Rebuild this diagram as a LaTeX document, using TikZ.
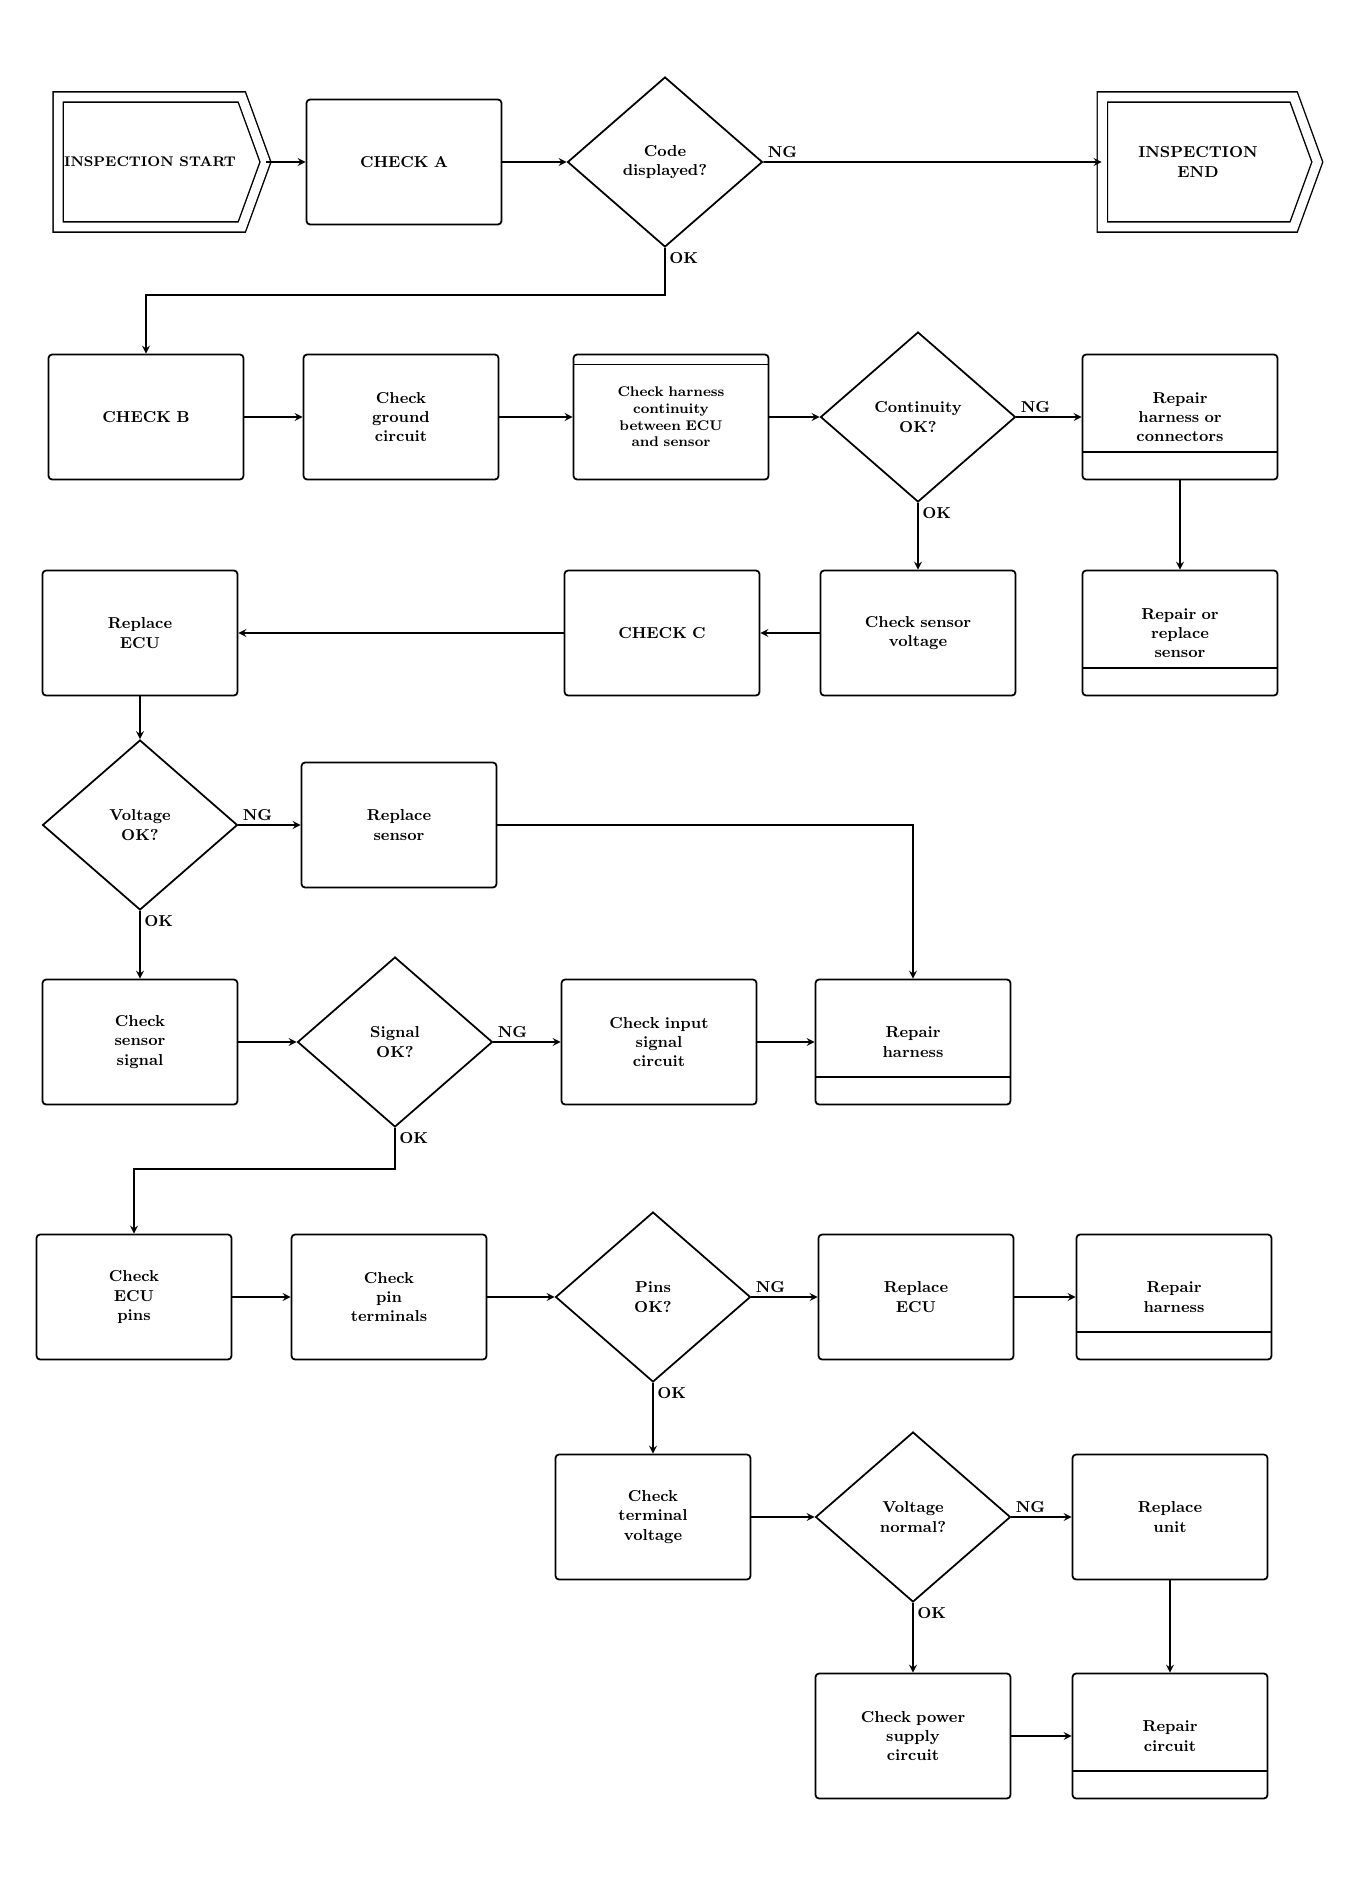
\documentclass[tikz,border=0pt]{standalone}
\usetikzlibrary{shapes.geometric,shapes.symbols}
\begin{document}
\begin{tikzpicture}[x=0.02cm,y=-0.02cm,>=stealth,
    box/.style={draw, line width=1pt, rounded corners=2pt, minimum width=3.9cm, minimum height=2.5cm, text width=3.3cm, align=center, font=\small\bfseries},
    fixbox/.style={box, path picture={\draw[line width=0.6pt] ([yshift=0.55cm]path picture bounding box.south west) -- ([yshift=0.55cm]path picture bounding box.south east);}},
    headbox/.style={box, path picture={\draw[line width=0.6pt] ([yshift=-0.2cm]path picture bounding box.north west) -- ([yshift=-0.2cm]path picture bounding box.north east);}},
    ask/.style={draw, diamond, line width=1pt, minimum width=3.9cm, minimum height=3.4cm, inner sep=0pt, align=center, font=\small\bfseries},
    term/.style={draw, double, double distance=5pt, line width=0.8pt, signal, signal to=east, signal pointer angle=140, minimum width=3.9cm, minimum height=2.6cm, align=center, font=\small\bfseries},
    lbl/.style={font=\small\bfseries, inner sep=2pt}]
    \useasboundingbox (0,0) rectangle (1354,1890);
    % row 1
    \node[term, font=\footnotesize\bfseries] (start) at (150,162) {INSPECTION START};
    \node[box] (chka) at (404,162) {CHECK A};
    \node[ask] (codeq) at (665,162) {Code\\displayed?};
    \node[term, minimum width=4.3cm] (finish) at (1198,162) {INSPECTION\\END};
    % row 2
    \node[box] (chkb) at (146,417) {CHECK B};
    \node[box] (gnd) at (401,417) {Check\\ground\\circuit};
    \node[headbox, font=\footnotesize\bfseries] (harn) at (671,417) {Check harness\\continuity\\between ECU\\and sensor};
    \node[ask] (contq) at (918,417) {Continuity\\OK?};
    \node[fixbox] (rephar) at (1180,417) {Repair\\harness or\\connectors};
    % row 3
    \node[box] (ecu) at (140,633) {Replace\\ECU};
    \node[box] (chkc) at (662,633) {CHECK C};
    \node[box] (volt) at (918,633) {Check sensor\\voltage};
    \node[fixbox] (repsen) at (1180,633) {Repair or\\replace\\sensor};
    % row 4
    \node[ask] (voltq) at (140,825) {Voltage\\OK?};
    \node[box] (sensor) at (399,825) {Replace\\sensor};
    % row 5
    \node[box] (sig) at (140,1042) {Check\\sensor\\signal};
    \node[ask] (sigq) at (395,1042) {Signal\\OK?};
    \node[box] (input) at (659,1042) {Check input\\signal\\circuit};
    \node[fixbox] (rephb) at (913,1042) {Repair\\harness};
    % row 6
    \node[box] (pins) at (134,1297) {Check\\ECU\\pins};
    \node[box] (term) at (389,1297) {Check\\pin\\terminals};
    \node[ask] (pinq) at (653,1297) {Pins\\OK?};
    \node[box] (ecub) at (916,1297) {Replace\\ECU};
    \node[fixbox] (rephc) at (1174,1297) {Repair\\harness};
    % row 7
    \node[box] (tvolt) at (653,1517) {Check\\terminal\\voltage};
    \node[ask] (tvq) at (913,1517) {Voltage\\normal?};
    \node[box] (unit) at (1170,1517) {Replace\\unit};
    % row 8
    \node[box] (power) at (913,1736) {Check power\\supply\\circuit};
    \node[fixbox] (repcir) at (1170,1736) {Repair\\circuit};
    % connectors
    \draw[->, line width=1pt] (start) -- (chka);
    \draw[->, line width=1pt] (chka) -- (codeq);
    \draw[->, line width=1pt] (codeq.east) node[lbl, above right] {NG} -- (finish);
    \draw[->, line width=1pt] (codeq.south) node[lbl, below right] {OK} -- ++(0,47) -| (chkb);
    \draw[->, line width=1pt] (chkb) -- (gnd);
    \draw[->, line width=1pt] (gnd) -- (harn);
    \draw[->, line width=1pt] (harn) -- (contq);
    \draw[->, line width=1pt] (contq.east) node[lbl, above right] {NG} -- (rephar);
    \draw[->, line width=1pt] (rephar) -- (repsen);
    \draw[->, line width=1pt] (contq.south) node[lbl, below right] {OK} -- (volt);
    \draw[->, line width=1pt] (volt) -- (chkc);
    \draw[->, line width=1pt] (chkc) -- (ecu);
    \draw[->, line width=1pt] (ecu) -- (voltq);
    \draw[->, line width=1pt] (voltq.east) node[lbl, above right] {NG} -- (sensor);
    \draw[->, line width=1pt] (sensor.east) -| (rephb);
    \draw[->, line width=1pt] (voltq.south) node[lbl, below right] {OK} -- (sig);
    \draw[->, line width=1pt] (sig) -- (sigq);
    \draw[->, line width=1pt] (sigq.east) node[lbl, above right] {NG} -- (input);
    \draw[->, line width=1pt] (input) -- (rephb);
    \draw[->, line width=1pt] (sigq.south) node[lbl, below right] {OK} -- ++(0,41) -| (pins);
    \draw[->, line width=1pt] (pins) -- (term);
    \draw[->, line width=1pt] (term) -- (pinq);
    \draw[->, line width=1pt] (pinq.east) node[lbl, above right] {NG} -- (ecub);
    \draw[->, line width=1pt] (ecub) -- (rephc);
    \draw[->, line width=1pt] (pinq.south) node[lbl, below right] {OK} -- (tvolt);
    \draw[->, line width=1pt] (tvolt) -- (tvq);
    \draw[->, line width=1pt] (tvq.east) node[lbl, above right] {NG} -- (unit);
    \draw[->, line width=1pt] (unit) -- (repcir);
    \draw[->, line width=1pt] (tvq.south) node[lbl, below right] {OK} -- (power);
    \draw[->, line width=1pt] (power) -- (repcir);
\end{tikzpicture}
\end{document}
